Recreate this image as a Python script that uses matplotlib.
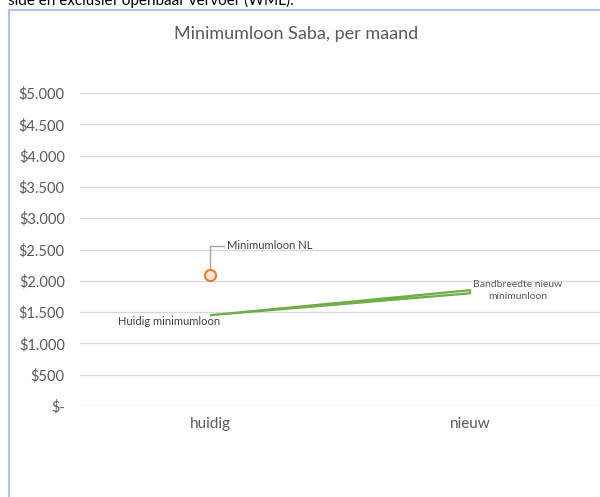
import matplotlib
matplotlib.use("Agg")
import matplotlib.pyplot as plt
from matplotlib.lines import Line2D

categories = ["huidig", "nieuw"]
band_lower = [1450, 1800]
band_upper = [1450, 1850]
nl_category = 0
nl_value = 2095
yticks = [0, 500, 1000, 1500, 2000, 2500, 3000, 3500, 4000, 4500, 5000]
ytick_labels = ["$-", "$500", "$1.000", "$1.500", "$2.000", "$2.500", "$3.000",
                "$3.500", "$4.000", "$4.500", "$5.000"]

plt.rcParams['font.family'] = ['Lato', 'DejaVu Sans']
W, H = 600, 497
fig = plt.figure(figsize=(W / 100, H / 100), dpi=100)

def fx(px):
    return px / W

def fy(py):
    return 1 - py / H

# frame
fig.add_artist(Line2D([fx(9), fx(9)], [fy(10), fy(497)], color="#A9C4EB", lw=1.5))
fig.add_artist(Line2D([fx(9), fx(600)], [fy(10), fy(10)], color="#A9C4EB", lw=1.5))

# text above the chart, cut off in the reference as well
fig.text(fx(8), fy(5), "side en exclusief openbaar vervoer (WML).", fontsize=11,
         color="black", va="baseline", ha="left")

ax = fig.add_axes([fx(80), fy(406), fx(520), (406 - 93) / H])
ax.set_xlim(0, 2)
ax.set_ylim(0, 5000)
for s in ax.spines.values():
    s.set_visible(False)
ax.set_yticks(yticks)
ax.set_yticklabels(ytick_labels)
ax.tick_params(axis="y", length=0, pad=11, labelsize=10.5, labelcolor="#595959")
ax.set_xticks([0.5, 1.5])
ax.set_xticklabels(categories)
ax.tick_params(axis="x", length=0, pad=8, labelsize=11, labelcolor="#595959")
ax.grid(axis="y", color="#D9D9D9", lw=1)
ax.set_axisbelow(True)

xs = [0.5 + i for i in range(len(categories))]
poly_x = xs + xs[::-1]
poly_y = band_upper + band_lower[::-1]
ax.fill(poly_x, poly_y, facecolor="#F4F9F0", edgecolor="#70AD47", lw=1.6, zorder=3)

nx = 0.5 + nl_category
ax.plot([nx], [nl_value], marker="o", ms=8, mfc="#FBE3D3", mec="#ED7D31", mew=1.5,
        ls="none", zorder=4)

# leader line for NL label
ax.annotate("Minimumloon NL", xy=(nx, nl_value + 110), xytext=(nx + 0.065, 2560),
            fontsize=8, color="#404040", va="center", ha="left",
            arrowprops=dict(arrowstyle="-", color="#A6A6A6", lw=1,
                            connectionstyle="angle,angleA=0,angleB=90,rad=0",
                            shrinkA=0, shrinkB=0))

ax.text(nx + 0.04, band_lower[0] - 20, "Huidig minimumloon", fontsize=8, color="#404040",
        ha="right", va="top")
ax.text(1.5 + 0.185, (band_upper[1] + band_lower[1]) / 2 + 20,
        "Bandbreedte nieuw\nminimunloon", fontsize=7.5, color="#595959",
        ha="center", va="center", linespacing=1.35)

fig.text(fx(296), fy(34), "Minimumloon Saba, per maand", fontsize=13,
         color="#595959", ha="center", va="center")

fig.savefig("out.png", dpi=100)
